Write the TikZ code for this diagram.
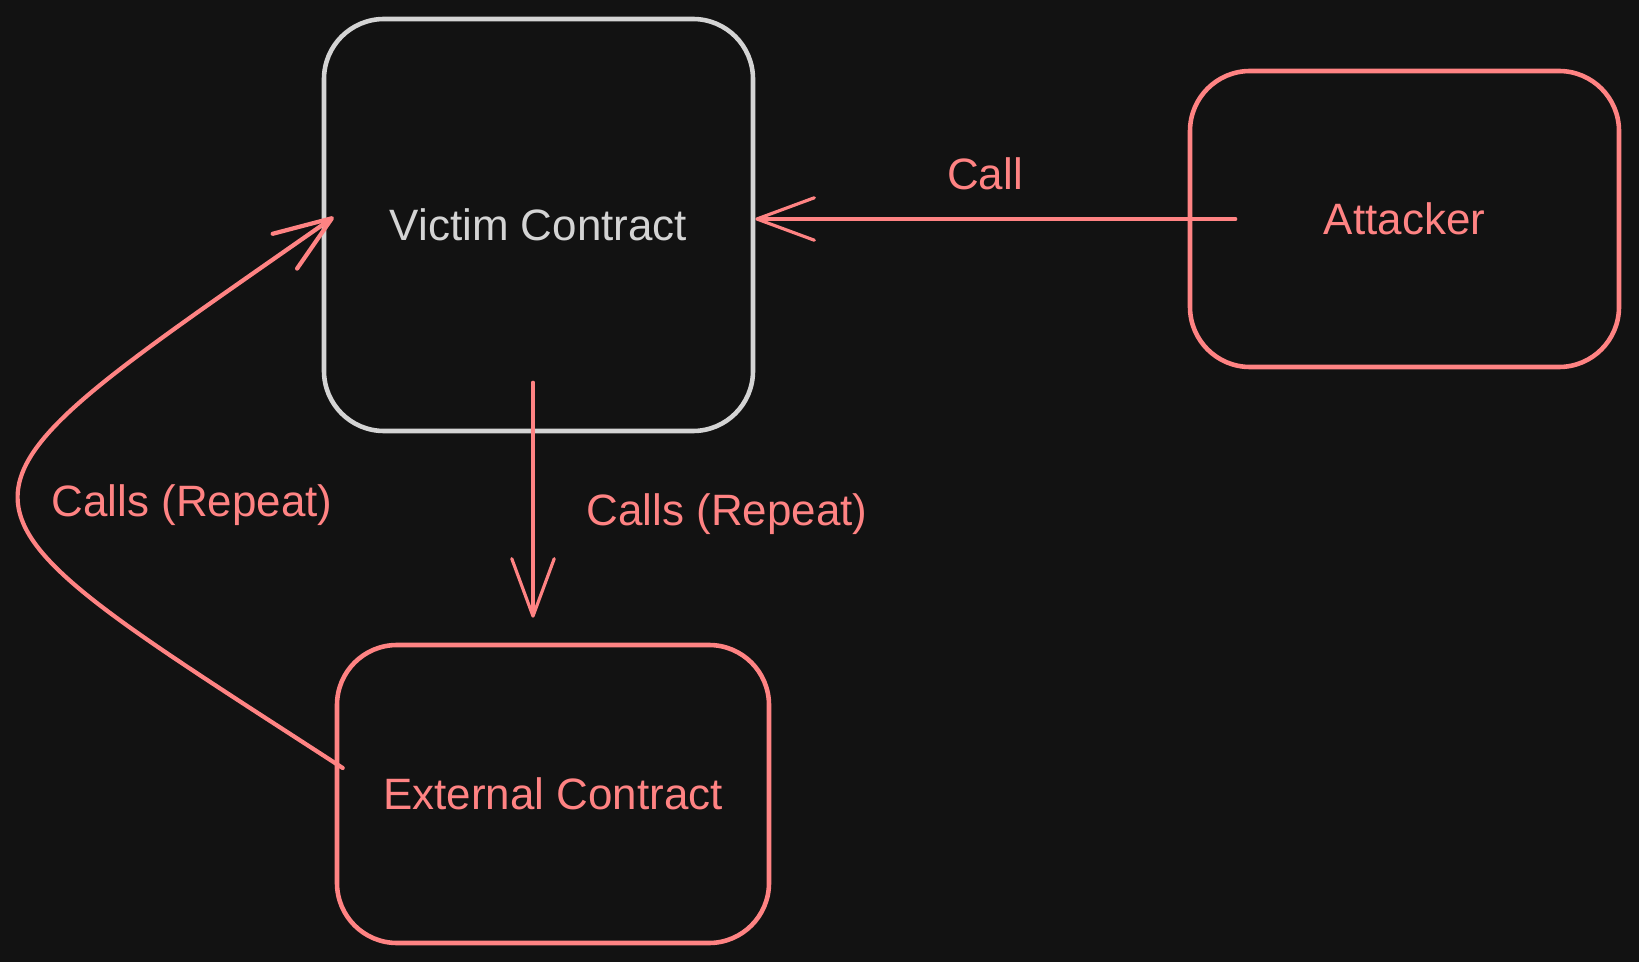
\documentclass[tikz,border=0pt]{standalone}
\usepackage{fontspec}
\setmainfont{Liberation Sans}
\usetikzlibrary{arrows.meta,calc}
\definecolor{bgdark}{HTML}{121212}
\definecolor{skred}{HTML}{FF8383}
\definecolor{skgray}{HTML}{D4D4D4}
\begin{document}
\begin{tikzpicture}
[box/.style={rectangle,rounded corners=1.2cm,draw=skred,line width=2.6pt,text=skred,minimum width=8.58cm,minimum height=5.92cm},
lbl/.style={text=skred,inner sep=0pt},
arr/.style={draw=skred,line width=1.8pt,line cap=round,-{Straight Barb[length=1.15cm,width=0.85cm,round]}}
]
\tikzset{every node/.style={font=\fontsize{25}{30}\selectfont}}
%\tikzset{every node/.style={font=\sffamily\Huge}}
\useasboundingbox (0,0) rectangle (32.78,19.24);
\fill[bgdark] (0,0) rectangle (32.78,19.24);
\node[box,draw=skgray,text=skgray,minimum height=8.24cm] (vic) at (10.77,14.74) {Victim Contract};
\node[box] (att) at (28.09,14.86) {Attacker};
\node[box,minimum width=8.64cm,minimum height=5.96cm] (ext) at (11.06,3.36) {External Contract};
\node[lbl] (lcall) at (19.70,15.76) {Call};
\node[lbl] (lrep) at (14.54,8.96) {Calls (Repeat)};
\node[lbl] (lback) at (3.84,9.14) {Calls (Repeat)};
\draw[arr] ([xshift=0.96cm]att.west) -- (att.west -| vic.east);
\draw[arr] ($(vic.south)+(-0.11,1.02)$) -- ($(vic.south |- ext.north)+(-0.11,0.5)$);
\draw[arr,line width=2.4pt] ($(ext.west)+(0.16,0.52)$)
    .. controls +(147:10.3) and +(215:10.3) .. ($(vic.west)+(0.24,0.16)$);
\end{tikzpicture}
\end{document}
